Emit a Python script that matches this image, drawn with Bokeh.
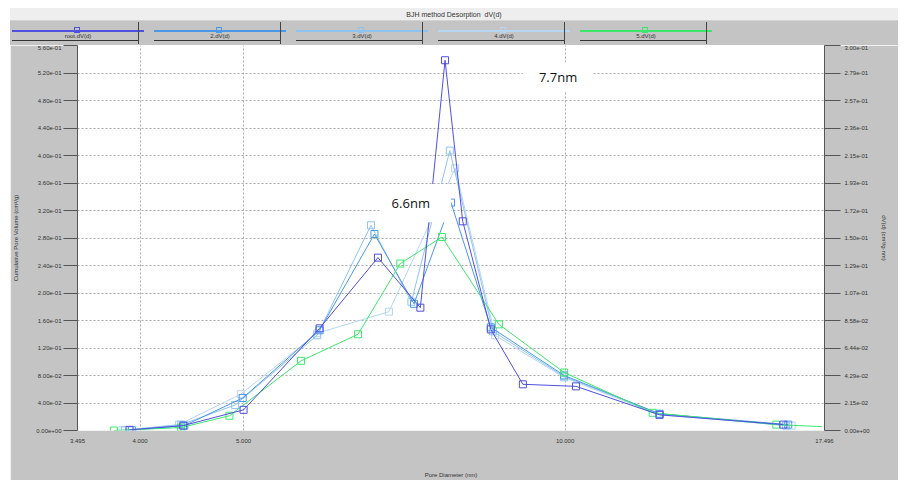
from bokeh.plotting import figure
from bokeh.models import Range1d, LinearAxis, FixedTicker, BoxAnnotation, Label, Div
from bokeh.layouts import column
from bokeh.embed import file_html
from bokeh.resources import INLINE

# ---------------- data ----------------
TITLE = "BJH method Desorption  dV(d)"
series_names = ["root.dV(d)", "2.dV(d)", "3.dV(d)", "4.dV(d)", "5.dV(d)"]
series_colors = ["#4f4fe0", "#4a98e6", "#8ec3f0", "#b5d5f2", "#3be86c"]

s1_x = [3.91, 4.39, 5.00, 5.89, 6.68, 7.32, 7.72, 8.02, 8.52, 9.13, 10.24, 12.26, 16.01]
s1_y = [0.0005, 0.0038, 0.0161, 0.0796, 0.1347, 0.0957, 0.2885, 0.1630, 0.0788, 0.0360, 0.0344, 0.0122, 0.0046]

s2_x = [3.93, 4.40, 4.99, 5.89, 6.63, 7.22, 7.82, 8.52, 9.98, 12.26, 16.18]
s2_y = [0.0002, 0.0038, 0.0253, 0.0781, 0.1531, 0.0987, 0.1776, 0.0804, 0.0429, 0.0130, 0.0046]

s3_x = [3.87, 4.37, 4.91, 5.86, 6.58, 7.18, 7.80, 8.56, 9.98, 12.26, 16.10]
s3_y = [0.0002, 0.0046, 0.0199, 0.0742, 0.1599, 0.1003, 0.2181, 0.0773, 0.0421, 0.0130, 0.0038]

s4_x = [3.85, 4.35, 4.97, 5.86, 6.84, 7.89, 8.60, 9.98, 12.26, 16.30]
s4_y = [0.0002, 0.0046, 0.0283, 0.0758, 0.0926, 0.2043, 0.0742, 0.0413, 0.0122, 0.0038]

s5_x = [3.78, 4.37, 4.85, 5.66, 6.40, 7.01, 7.67, 8.67, 9.98, 12.08, 15.77, 17.40]
s5_y = [0.0000, 0.0023, 0.0115, 0.0543, 0.0750, 0.1301, 0.1508, 0.0827, 0.0452, 0.0138, 0.0046, 0.0030]

x_ticks = [3.495, 4.0, 5.0, 10.0, 17.496]
x_tick_labels = ["3.495", "4.000", "5.000", "10.000", "17.496"]
x_grid_ticks = [4.0, 5.0, 10.0]

left_tick_labels = ["0.00e+00", "4.00e-02", "8.00e-02", "1.20e-01", "1.60e-01", "2.00e-01",
                    "2.40e-01", "2.80e-01", "3.20e-01", "3.60e-01", "4.00e-01", "4.40e-01",
                    "4.80e-01", "5.20e-01", "5.60e-01"]
right_tick_labels = ["0.00e+00", "2.15e-02", "4.29e-02", "6.44e-02", "8.58e-02", "1.07e-01",
                     "1.29e-01", "1.50e-01", "1.72e-01", "1.93e-01", "2.15e-01", "2.36e-01",
                     "2.57e-01", "2.79e-01", "3.00e-01"]
LEFT_MAX = 0.56
RIGHT_MAX = 0.30

annotations = [("6.6nm", 7.17, 0.1776), ("7.7nm", 9.85, 0.2755)]
annotation_boxes = [(6.73, 7.82, 0.1622, 0.1921), (9.13, 10.62, 0.2640, 0.2870)]

# ---------------- styling ----------------
GRAY = "#c4c4c4"
FONT = "Liberation Sans"
TXT = "#333333"
AX = "#555555"
W = 888
HEAD_H = 37
H = 435

# ---------------- header (title bar + legend) as HTML ----------------
parts = [f'<div style="position:relative;width:{W}px;height:{HEAD_H}px;background:{GRAY};'
         f'font-family:\'{FONT}\';color:{TXT};overflow:hidden;">',
         f'<div style="position:absolute;left:0;top:0;width:{W}px;height:13px;background:#eeeeee;'
         f'border-bottom:1px solid #d4d4d4;font-size:7px;line-height:13px;text-align:center;'
         f'white-space:pre;">{TITLE}</div>']
for i, (name, col) in enumerate(zip(series_names, series_colors)):
    c = 68 + 142 * i
    parts.append(f'<div style="position:absolute;left:{c-66}px;top:22px;width:132px;height:1.5px;background:{col};"></div>')
    parts.append(f'<div style="position:absolute;left:{c-4}px;top:19px;width:6px;height:6px;border:1px solid {col};"></div>')
    parts.append(f'<div style="position:absolute;left:{c-40}px;top:25px;width:80px;text-align:center;'
                 f'font-size:6px;line-height:7px;">{name}</div>')
    parts.append(f'<div style="position:absolute;left:{c-66}px;top:32px;width:126px;height:1px;background:#333;"></div>')
    parts.append(f'<div style="position:absolute;left:{c+60}px;top:14px;width:1px;height:22px;background:#444;"></div>')
parts.append('</div>')
header = Div(text="".join(parts), width=W, height=HEAD_H, margin=(8, 0, 0, 10))

# ---------------- main plot ----------------
p = figure(width=W, height=H, x_axis_type="log",
           x_range=Range1d(x_ticks[0], x_ticks[-1]), y_range=Range1d(0, RIGHT_MAX),
           y_axis_location="right", output_backend="svg", toolbar_location=None,
           min_border_left=66, min_border_right=74, min_border_top=0, min_border_bottom=43)
p.margin = (0, 0, 0, 10)
p.background_fill_color = "white"
p.border_fill_color = GRAY
p.outline_line_color = None

n = len(right_tick_labels) - 1
right_ticks = [round(RIGHT_MAX * i / n, 10) for i in range(n + 1)]
left_ticks = [round(LEFT_MAX * i / n, 10) for i in range(n + 1)]

def style_axis(ax):
    ax.axis_line_color = AX
    ax.major_tick_line_color = AX
    ax.minor_tick_line_color = None
    ax.major_label_text_font = FONT
    ax.major_label_text_font_size = "6px"
    ax.major_label_text_color = TXT
    ax.axis_label_text_font = FONT
    ax.axis_label_text_font_size = "6px"
    ax.axis_label_text_font_style = "normal"
    ax.axis_label_text_color = TXT

ry = p.yaxis[0]
ry.ticker = FixedTicker(ticks=right_ticks)
ry.major_label_overrides = {t: l for t, l in zip(right_ticks, right_tick_labels)}
ry.axis_label = "dV(d) (cm³/g·nm)"
style_axis(ry)
ry.major_tick_out = 16
ry.major_tick_in = 0
ry.major_label_standoff = 4
ry.axis_label_standoff = 8

p.extra_y_ranges = {"cum": Range1d(0, LEFT_MAX)}
ly = LinearAxis(y_range_name="cum", ticker=FixedTicker(ticks=left_ticks),
                major_label_overrides={t: l for t, l in zip(left_ticks, left_tick_labels)},
                axis_label="Cumulative Pore Volume (cm³/g)")
style_axis(ly)
ly.major_tick_out = 14
ly.major_tick_in = 0
ly.major_label_standoff = 2
ly.axis_label_standoff = 14
p.add_layout(ly, "left")

xa = p.xaxis[0]
xa.ticker = FixedTicker(ticks=x_ticks)
xa.major_label_overrides = {t: l for t, l in zip(x_ticks, x_tick_labels)}
xa.axis_label = "Pore Diameter (nm)"
style_axis(xa)
xa.axis_line_color = None
xa.major_tick_line_color = None
xa.major_label_standoff = 2
xa.axis_label_standoff = 26

p.xgrid.ticker = FixedTicker(ticks=x_grid_ticks)
p.ygrid.ticker = FixedTicker(ticks=right_ticks[1:])
for g in (p.xgrid, p.ygrid):
    g.grid_line_color = "#a8a8a8"
    g.grid_line_dash = "2 2"
    g.grid_line_width = 1

series = [(s4_x, s4_y, series_colors[3]), (s3_x, s3_y, series_colors[2]),
          (s2_x, s2_y, series_colors[1]), (s5_x, s5_y, series_colors[4]),
          (s1_x, s1_y, series_colors[0])]
for xs, ys, col in series:
    p.line(xs, ys, line_color=col, line_width=1)
    mx, my = (xs[:-1], ys[:-1]) if xs is s5_x else (xs, ys)
    p.scatter(mx, my, marker="square", size=7, fill_color=None, line_color=col, line_width=1)

for (l, r, b, t) in annotation_boxes:
    p.add_layout(BoxAnnotation(left=l, right=r, bottom=b, top=t, fill_color="white",
                               fill_alpha=1.0, line_color=None))
for txt, ax_, ay_ in annotations:
    p.add_layout(Label(x=ax_, y=ay_, text=txt, text_font="Open Sans",
                       text_font_size="13px", text_align="center", text_baseline="middle",
                       text_color="#111111"))

layout = column(header, p, spacing=0)
open("out.html", "w").write(file_html(layout, INLINE))
